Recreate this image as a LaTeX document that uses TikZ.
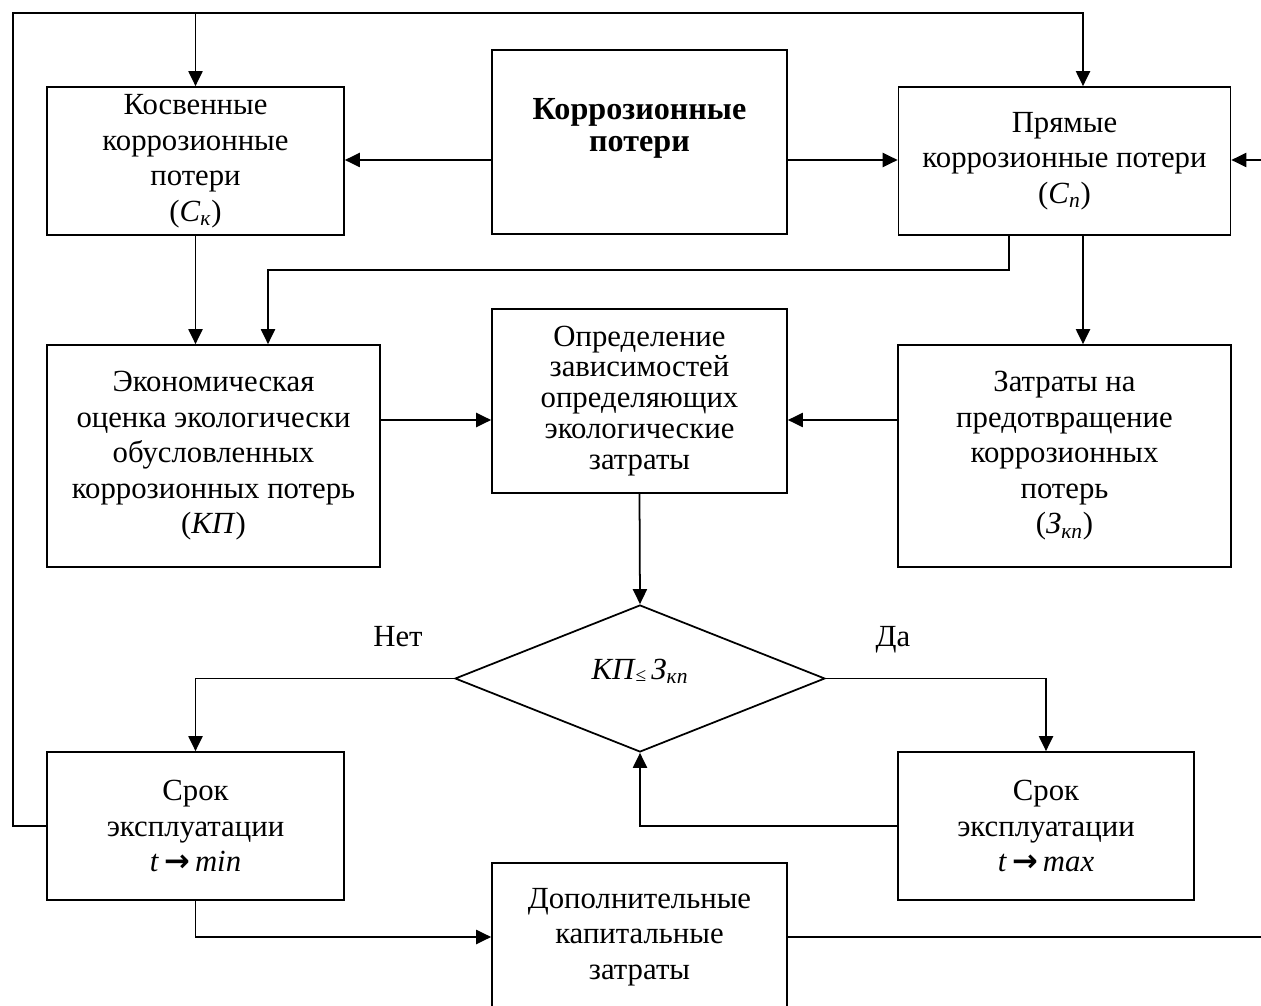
\documentclass[tikz,border=0pt]{standalone}
\usepackage{fontspec}
\setmainfont{Liberation Serif}
\newfontfamily\symfont{DejaVu Sans}
\usetikzlibrary{shapes.geometric,arrows.meta,calc}

\newcommand{\subsc}[2]{\textit{#1}\textsubscript{\textit{#2}}}
\newcommand{\tarrow}{\,{\symfont\bfseries →}\,}

\tikzset{
  box/.style={draw, line width=1pt, rectangle, align=center, inner sep=0pt},
  dia/.style={draw, line width=1pt, diamond, inner sep=0pt},
  arr/.style={draw, line width=1pt, -{Triangle[length=8.5pt,width=8pt]}},
  lbl/.style={inner sep=0pt}
}

\begin{document}
\begin{tikzpicture}[x=0.02cm, y=-0.02cm, font=\fontsize{17.5}{20.2}\selectfont]
  \useasboundingbox (0,0) rectangle (1261,1006);
  % Top row
  \node[box, minimum width=5.94cm, minimum height=2.96cm] (kosv) at (195.5,161)
    {Косвенные\\коррозионные\\потери\\(\subsc{С}{к})};
  \node[box, minimum width=5.9cm, minimum height=3.68cm] (korr) at (639.5,142) {};
  \node[lbl, font=\fontsize{18.3}{18.2}\selectfont\bfseries, align=center] (korrtxt)
    at ($(korr)+(0,-14)$) {Коррозионные\\потери};
  \node[box, minimum width=6.64cm, minimum height=2.96cm] (pryam) at (1064.5,161)
    {Прямые\\коррозионные потери\\(\subsc{С}{п})};
  % Middle row
  \node[box, minimum width=6.66cm, minimum height=4.44cm] (ekon) at (213.5,456)
    {Экономическая\\оценка экологически\\обусловленных\\коррозионных потерь\\(\textit{КП})};
  \node[box, minimum width=5.9cm, minimum height=3.68cm,
    font=\fontsize{17.5}{17.6}\selectfont] (opred) at (639.5,401)
    {Определение\\зависимостей\\определяющих\\экологические\\затраты};
  \node[box, minimum width=6.66cm, minimum height=4.44cm] (zatr) at (1064.5,456)
    {Затраты на\\предотвращение\\коррозионных\\потерь\\(\subsc{З}{кп})};
  % Decision
  \node[dia, minimum width=7.4cm, minimum height=2.94cm] (dec) at (640,678.5)
    {\raisebox{0pt}[\height][\dimexpr\depth+8pt]{\textit{КП}{\fontsize{11}{12}\selectfont\raisebox{-1pt}{≤}}\,\subsc{З}{кп}}};
  \node[lbl, anchor=base] (no) at (398,646) {Нет};
  \node[lbl, anchor=base] (yes) at (893,646) {Да};
  % Bottom row
  \node[box, minimum width=5.94cm, minimum height=2.96cm] (srokmin) at (195.5,826)
    {Срок\\эксплуатации\\\textit{t}\tarrow\textit{min}};
  \node[box, minimum width=5.92cm, minimum height=2.96cm] (srokmax) at (1046,826)
    {Срок\\эксплуатации\\\textit{t}\tarrow\textit{max}};
  \node[box, minimum width=5.9cm, minimum height=2.96cm] (dop) at (639.5,937)
    {Дополнительные\\капитальные\\затраты};
  % Helper points
  \coordinate (loopL) at (13,13);
  \coordinate (loopR) at (1268,937);
  \coordinate (ybus) at (0,420);
  \coordinate (xbend) at (268,270);
  \coordinate (ybox) at (0,160);
  % Connectors
  \draw[arr] (srokmin.west) -| (loopL) -| ($(pryam.north)+(18.5,0)$);
  \draw[arr] (kosv.north |- loopL) -- (kosv.north);
  \draw[arr] (korr.west |- ybox) -- (kosv.east |- ybox);
  \draw[arr] (korr.east |- ybox) -- (pryam.west |- ybox);
  \draw[arr] (dop.east) -- (loopR) |- (pryam.east |- ybox);
  \draw[arr] (kosv.south) -- (kosv.south |- ekon.north);
  \draw[arr] ($(pryam.south)+(-55.5,0)$) |- (xbend) -- (xbend |- ekon.north);
  \draw[arr] ($(pryam.south)+(18.5,0)$) -- ($(zatr.north)+(18.5,0)$);
  \draw[arr] (ekon.east |- ybus) -- (opred.west |- ybus);
  \draw[arr] (zatr.west |- ybus) -- (opred.east |- ybus);
  \draw[arr] (opred.south) -- (dec.north);
  \draw[arr] (dec.west) -| (srokmin.north);
  \draw[arr] (dec.east) -| (srokmax.north);
  \draw[arr] (srokmax.west) -| (dec.south);
  \draw[arr] (srokmin.south) |- (dop.west);
\end{tikzpicture}
\end{document}
